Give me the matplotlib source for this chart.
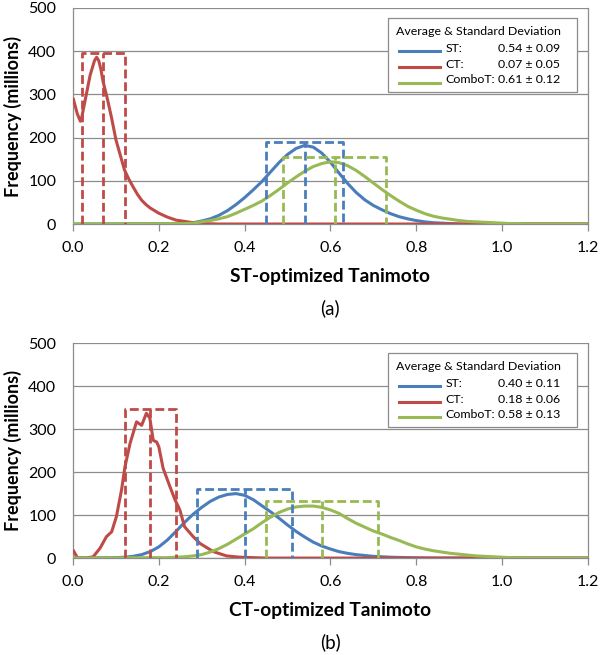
import matplotlib
matplotlib.use('Agg')
import matplotlib.pyplot as plt
from matplotlib.patches import Rectangle

plt.rcParams['font.family'] = ['Lato', 'DejaVu Sans']

# ---- panel (a): ST-optimized Tanimoto ----
a_red_x = [0.00, 0.01, 0.017, 0.02, 0.03, 0.04, 0.05, 0.055, 0.06, 0.065, 0.07, 0.08,
           0.09, 0.10, 0.11, 0.12, 0.13, 0.14, 0.15, 0.16, 0.17, 0.18, 0.20, 0.22,
           0.24, 0.26, 0.28, 0.30, 0.32, 0.34, 1.20]
a_red_y = [292, 255, 238, 245, 295, 345, 378, 386, 378, 358, 330, 290,
           245, 195, 160, 125, 104, 86, 69, 55, 45, 37, 25, 16,
           9, 6, 3, 1.5, 0.5, 0, 0]

a_blue_x = [0.00, 0.26, 0.28, 0.30, 0.32, 0.34, 0.36, 0.38, 0.40, 0.42, 0.44, 0.46, 0.48,
            0.50, 0.52, 0.54, 0.56, 0.58, 0.60, 0.62, 0.64, 0.66, 0.68, 0.70, 0.72,
            0.74, 0.76, 0.78, 0.80, 0.82, 0.84, 0.86, 0.88, 0.90, 1.20]
a_blue_y = [0, 1, 3, 7, 12, 20, 31, 45, 61, 79, 98, 120, 142,
            161, 175, 182, 178, 164, 143, 118, 94, 73, 56, 43, 33,
            24, 17, 12, 8, 5, 3, 2, 1, 0, 0]

a_green_x = [0.00, 0.26, 0.28, 0.30, 0.32, 0.34, 0.36, 0.38, 0.40, 0.42, 0.44, 0.46, 0.48,
             0.50, 0.52, 0.54, 0.56, 0.58, 0.60, 0.62, 0.64, 0.66, 0.68, 0.70, 0.72,
             0.74, 0.76, 0.78, 0.80, 0.82, 0.84, 0.86, 0.88, 0.90, 0.92, 0.94, 0.96,
             0.98, 1.00, 1.02, 1.04, 1.06, 1.20]
a_green_y = [0, 1, 2, 5, 8, 12, 17, 25, 34, 43, 53, 66, 80,
             95, 109, 122, 133, 140, 144, 142, 135, 124, 110, 95, 80,
             66, 53, 41, 32, 24, 18, 14, 11, 8, 6, 5, 4,
             3, 2, 1, 1, 0, 0]

a_mean = [0.54, 0.07, 0.61]
a_std = [0.09, 0.05, 0.12]
a_box_h = [190, 395, 155]

# ---- panel (b): CT-optimized Tanimoto ----
b_red_x = [0.00, 0.01, 0.03, 0.047, 0.063, 0.078, 0.09, 0.101, 0.113, 0.121, 0.133, 0.148,
           0.16, 0.171, 0.179, 0.187, 0.195, 0.20, 0.21, 0.226, 0.238, 0.249, 0.26,
           0.28, 0.296, 0.327, 0.358, 0.389, 0.42, 0.45, 1.20]
b_red_y = [19, 1, 0, 3, 23, 50, 61, 96, 158, 212, 267, 317,
           309, 337, 326, 274, 270, 259, 209, 166, 135, 112, 73,
           50, 34, 15, 5, 2, 1, 0, 0]

b_blue_x = [0.00, 0.10, 0.12, 0.14, 0.16, 0.18, 0.20, 0.22, 0.24, 0.26, 0.28, 0.30, 0.32,
            0.34, 0.36, 0.38, 0.40, 0.42, 0.44, 0.46, 0.48, 0.50, 0.52, 0.54, 0.56,
            0.58, 0.60, 0.62, 0.64, 0.66, 0.68, 0.70, 0.72, 0.74, 0.76, 0.78, 0.80,
            0.84, 1.20]
b_blue_y = [0, 1, 2, 4, 8, 15, 26, 42, 62, 83, 102, 118, 132,
            142, 148, 150, 146, 136, 122, 108, 93, 77, 62, 49, 37,
            28, 21, 15, 11, 8, 6, 4, 3, 2, 1.5, 1, 0.5,
            0, 0]

b_green_x = [0.00, 0.20, 0.22, 0.24, 0.26, 0.28, 0.30, 0.32, 0.34, 0.36, 0.38, 0.40, 0.42,
             0.44, 0.46, 0.48, 0.50, 0.52, 0.54, 0.56, 0.58, 0.60, 0.62, 0.64, 0.66,
             0.68, 0.70, 0.72, 0.74, 0.76, 0.78, 0.80, 0.82, 0.84, 0.86, 0.88, 0.90,
             0.92, 0.94, 0.96, 0.98, 1.00, 1.02, 1.04, 1.06, 1.10, 1.20]
b_green_y = [0, 1, 1, 2, 3, 5, 8, 14, 22, 32, 44, 56, 68,
             82, 95, 106, 114, 119, 121, 121, 118, 112, 104, 92, 81,
             72, 63, 56, 48, 41, 33, 26, 21, 17, 14, 11, 9,
             7, 5, 4, 3, 2, 1, 1, 0.5, 0, 0]

b_mean = [0.40, 0.18, 0.58]
b_std = [0.11, 0.06, 0.13]
b_box_h = [160, 346, 133]

series_names = ['ST:', 'CT:', 'ComboT:']
colors = ['#4A7EBB', '#BE4B48', '#98B954']
x_ticks = [0.0, 0.2, 0.4, 0.6, 0.8, 1.0, 1.2]
y_ticks = [0, 100, 200, 300, 400, 500]

fig = plt.figure(figsize=(6.0, 6.55), dpi=100)
ax_a = fig.add_axes([0.1217, 0.658, 0.858, 0.3298])
ax_b = fig.add_axes([0.1217, 0.148, 0.858, 0.328])


def draw_panel(ax, curves, means, stds, box_h, xlabel, tag):
    # curves: blue, red, green (green drawn last, on top)
    for (cx, cy), c in zip(curves, colors):
        ax.plot(cx, cy, color=c, lw=2.2, solid_capstyle='butt', zorder=3)

    # dashed boxes: mean +/- std, with a line at the mean
    for m, s, h, c in zip(means, stds, box_h, colors):
        ax.plot([m - s, m - s, m + s, m + s], [0, h, h, 0], color=c, lw=2.0,
                ls=(0, (3.2, 1.4)), zorder=4)
        ax.plot([m, m], [0, h], color=c, lw=2.0, ls=(0, (3.2, 1.4)), zorder=4)

    ax.set_xlim(0, 1.2)
    ax.set_ylim(0, 500)
    ax.set_xticks(x_ticks)
    ax.set_xticklabels(['%.1f' % v for v in x_ticks])
    ax.set_yticks(y_ticks)
    ax.grid(True, axis='y', color='#8c8c8c', lw=0.9)
    ax.set_axisbelow(True)
    ax.tick_params(axis='y', length=0, labelsize=11.5, pad=12)
    ax.tick_params(axis='x', length=5, width=0.9, color='#8c8c8c',
                   labelsize=11.5, pad=7, direction='out')
    for side in ['left', 'bottom', 'right']:
        ax.spines[side].set_color('#8c8c8c')
        ax.spines[side].set_linewidth(0.9)
    ax.spines['top'].set_visible(False)

    ax.set_ylabel('Frequency (millions)', fontsize=13, fontweight='bold')
    ax.yaxis.set_label_coords(-0.116, 0.5)
    ax.yaxis.label.set_va('center')
    ax.set_xlabel(xlabel, fontsize=13.8, fontweight='bold')
    ax.xaxis.set_label_coords(0.5, -0.245)
    ax.xaxis.label.set_va('center')
    ax.text(0.5, -0.39, tag, transform=ax.transAxes, ha='center', va='center',
            fontsize=13.5)

    # legend box
    box = Rectangle((0.612, 0.611), 0.367, 0.343, transform=ax.transAxes,
                    facecolor='white', edgecolor='#8c8c8c', lw=0.9, zorder=5)
    ax.add_patch(box)
    ax.text(0.628, 0.890, 'Average & Standard Deviation', transform=ax.transAxes,
            fontsize=8.9, va='center', ha='left', zorder=6)
    for i, (name, m, s, c) in enumerate(zip(series_names, means, stds, colors)):
        yy = 0.813 - i * 0.073
        ax.plot([0.633, 0.713], [yy - 0.012, yy - 0.012], color=c, lw=2.2,
                transform=ax.transAxes, zorder=6, clip_on=False)
        ax.text(0.724, yy, name, transform=ax.transAxes, fontsize=8.9,
                va='center', ha='left', zorder=6)
        ax.text(0.825, yy, '%.2f \u00b1 %.2f' % (m, s), transform=ax.transAxes,
                fontsize=8.9, va='center', ha='left', zorder=6)


draw_panel(ax_a,
           [(a_blue_x, a_blue_y), (a_red_x, a_red_y), (a_green_x, a_green_y)],
           a_mean, a_std, a_box_h, 'ST-optimized Tanimoto', '(a)')
draw_panel(ax_b,
           [(b_blue_x, b_blue_y), (b_red_x, b_red_y), (b_green_x, b_green_y)],
           b_mean, b_std, b_box_h, 'CT-optimized Tanimoto', '(b)')

fig.savefig('out.png', dpi=100, facecolor='white')
